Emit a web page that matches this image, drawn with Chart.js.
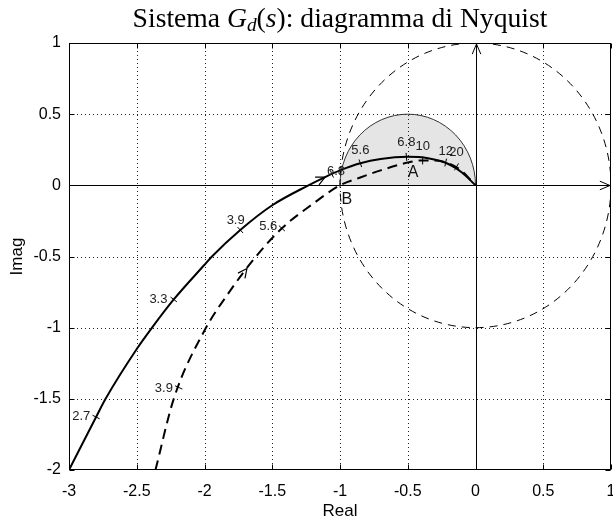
<!DOCTYPE html>
<html>
<head>
<meta charset="utf-8">
<script src="https://cdn.jsdelivr.net/npm/chart.js@4.4.1/dist/chart.umd.min.js"></script>
<style>
  html, body { margin: 0; padding: 0; background: #fff; }
</style>
</head>
<body>
<canvas id="nyq" width="613" height="523"></canvas>
<script>
// curva continua
const solidX = [-3.0, -2.8, -2.73, -2.5, -2.387, -2.227, -2.0, -1.945, -1.736, -1.5, -1.233, -1.11, -1.0, -0.85, -0.7, -0.5, -0.35, -0.2, -0.1, 0];
const solidY = [-2.0, -1.628, -1.5, -1.15, -1.0, -0.802, -0.558, -0.5, -0.314, -0.14, 0.0, 0.058, 0.105, 0.155, 0.185, 0.2, 0.19, 0.15, 0.09, 0];

// curva tratteggiata
const dashX = [-2.362, -2.227, -2.0, -1.81, -1.62, -1.429, -1.2, -1.0, -0.85, -0.7, -0.5, -0.4, -0.3, -0.2, -0.1, 0];
const dashY = [-2.0, -1.5, -1.02, -0.74, -0.5, -0.302, -0.13, 0.0, 0.055, 0.105, 0.16, 0.175, 0.175, 0.155, 0.1, 0];

const xTicks = [-3, -2.5, -2, -1.5, -1, -0.5, 0, 0.5, 1];
const yTicks = [-2, -1.5, -1, -0.5, 0, 0.5, 1];

// tacche di frequenza: x, y tacca, x, y testo, etichetta
const solidMarks = [
  [-2.80, -1.628, -2.91, -1.625, '2.7'],
  [-2.227, -0.802, -2.34, -0.80, '3.3'],
  [-1.736, -0.314, -1.77, -0.25, '3.9'],
  [-1.06, 0.08, -1.03, 0.10, '6.8'],
  [-0.85, 0.155, -0.85, 0.245, '5.6'],
  [-0.51, 0.2, -0.51, 0.30, '6.8']
];
const dashMarks = [
  [-2.19, -1.42, -2.30, -1.43, '3.9'],
  [-1.429, -0.302, -1.53, -0.29, '5.6'],
  [-0.39, 0.175, -0.39, 0.27, '10'],
  [-0.22, 0.16, -0.22, 0.24, '12'],
  [-0.14, 0.13, -0.14, 0.23, '20']
];
const solidArrowAt = -1.11;
const dashArrowAt = -1.687;

const unitCircle = [0, 0, 1];     // centro x, centro y, raggio
const mCircle = [-0.5, 0, 0.5];
const namedPts = [['A', -0.46, 0.09], ['B', -0.95, -0.1]];

function px(c, v) { return c.scales.x.getPixelForValue(v); }
function py(c, v) { return c.scales.y.getPixelForValue(v); }

// direzione (in pixel) del tratto di curva che contiene x
function dirAt(c, xs, ys, x) {
  let i = 0;
  while (i < xs.length - 2 && xs[i + 1] < x) i++;
  const dx = px(c, xs[i + 1]) - px(c, xs[i]);
  const dy = py(c, ys[i + 1]) - py(c, ys[i]);
  const l = Math.hypot(dx, dy);
  return [dx / l, dy / l];
}

function interp(xs, ys, x) {
  let i = 0;
  while (i < xs.length - 2 && xs[i + 1] < x) i++;
  const t = (x - xs[i]) / (xs[i + 1] - xs[i]);
  return ys[i] + t * (ys[i + 1] - ys[i]);
}

function arrowHead(ctx, x, y, ux, uy, len, half) {
  const a = Math.atan2(uy, ux);
  ctx.beginPath();
  ctx.moveTo(x - len * Math.cos(a - half), y - len * Math.sin(a - half));
  ctx.lineTo(x, y);
  ctx.lineTo(x - len * Math.cos(a + half), y - len * Math.sin(a + half));
  ctx.stroke();
}

function ellipseOf(c, circ) {
  const cx = px(c, circ[0]), cy = py(c, circ[1]);
  return [cx, cy, px(c, circ[0] + circ[2]) - cx, cy - py(c, circ[1] + circ[2])];
}

const decor = {
  id: 'decor',
  beforeDatasetsDraw(chart) {
    const ctx = chart.ctx, a = chart.chartArea;
    ctx.save();
    ctx.beginPath();
    ctx.rect(a.left, a.top, a.right - a.left, a.bottom - a.top);
    ctx.clip();

    // semicerchio grigio
    let e = ellipseOf(chart, mCircle);
    ctx.beginPath();
    ctx.ellipse(e[0], e[1], e[2], e[3], 0, Math.PI, 2 * Math.PI);
    ctx.closePath();
    ctx.fillStyle = '#e5e5e5';
    ctx.fill();
    ctx.beginPath();
    ctx.ellipse(e[0], e[1], e[2], e[3], 0, Math.PI, 2 * Math.PI);
    ctx.strokeStyle = '#333';
    ctx.lineWidth = 1;
    ctx.stroke();

    // griglia
    ctx.setLineDash([1, 3]);
    ctx.strokeStyle = '#222';
    xTicks.forEach(v => {
      const x = Math.round(px(chart, v)) + 0.5;
      ctx.beginPath(); ctx.moveTo(x, a.top); ctx.lineTo(x, a.bottom); ctx.stroke();
    });
    yTicks.forEach(v => {
      const y = Math.round(py(chart, v)) + 0.5;
      ctx.beginPath(); ctx.moveTo(a.left, y); ctx.lineTo(a.right, y); ctx.stroke();
    });

    // cerchio unitario tratteggiato
    e = ellipseOf(chart, unitCircle);
    ctx.setLineDash([8, 6]);
    ctx.strokeStyle = '#000';
    ctx.beginPath();
    ctx.ellipse(e[0], e[1], e[2], e[3], 0, 0, 2 * Math.PI);
    ctx.stroke();

    // assi con frecce
    ctx.setLineDash([]);
    const x0 = Math.round(px(chart, 0)) + 0.5, y0 = Math.round(py(chart, 0)) + 0.5;
    ctx.beginPath();
    ctx.moveTo(a.left, y0); ctx.lineTo(a.right - 1, y0);
    ctx.moveTo(x0, a.bottom); ctx.lineTo(x0, a.top + 1);
    ctx.stroke();
    arrowHead(ctx, a.right - 1, y0, 1, 0, 11, 0.4);
    arrowHead(ctx, x0, a.top + 1, 0, -1, 11, 0.4);
    ctx.restore();
  },
  afterDatasetsDraw(chart) {
    const ctx = chart.ctx, a = chart.chartArea;
    ctx.save();
    ctx.strokeStyle = '#000';
    ctx.fillStyle = '#222';
    ctx.lineWidth = 1;
    ctx.font = '13px "Liberation Sans", Arial, sans-serif';
    ctx.textAlign = 'center';
    ctx.textBaseline = 'middle';

    const drawMarks = (marks, xs, ys) => {
      marks.forEach(m => {
        const d = dirAt(chart, xs, ys, m[0]);
        const x = px(chart, m[0]), y = py(chart, m[1]);
        ctx.beginPath();
        ctx.moveTo(x - d[1] * 4, y + d[0] * 4);
        ctx.lineTo(x + d[1] * 4, y - d[0] * 4);
        ctx.stroke();
        ctx.fillText(m[4], px(chart, m[2]), py(chart, m[3]));
      });
    };
    drawMarks(solidMarks, solidX, solidY);
    drawMarks(dashMarks, dashX, dashY);

    // frecce sulle curve
    ctx.lineWidth = 1.2;
    let d = dirAt(chart, solidX, solidY, solidArrowAt);
    arrowHead(ctx, px(chart, solidArrowAt), py(chart, interp(solidX, solidY, solidArrowAt)), d[0], d[1], 10, 0.45);
    d = dirAt(chart, dashX, dashY, dashArrowAt);
    arrowHead(ctx, px(chart, dashArrowAt), py(chart, interp(dashX, dashY, dashArrowAt)), d[0], d[1], 10, 0.45);

    // punti A e B
    ctx.font = '16px "Liberation Sans", Arial, sans-serif';
    ctx.fillStyle = '#111';
    namedPts.forEach(p => ctx.fillText(p[0], px(chart, p[1]), py(chart, p[2])));

    // cornice e tacche
    ctx.lineWidth = 1;
    ctx.strokeStyle = '#000';
    const L = a.left + 0.5, R = a.right - 0.5, T = a.top + 0.5, B = a.bottom - 0.5;
    ctx.strokeRect(L, T, R - L, B - T);
    ctx.beginPath();
    xTicks.forEach(v => {
      const x = Math.round(px(chart, v)) + 0.5;
      ctx.moveTo(x, B); ctx.lineTo(x, B - 5);
      ctx.moveTo(x, T); ctx.lineTo(x, T + 5);
    });
    yTicks.forEach(v => {
      const y = Math.round(py(chart, v)) + 0.5;
      ctx.moveTo(L, y); ctx.lineTo(L + 5, y);
      ctx.moveTo(R, y); ctx.lineTo(R - 5, y);
    });
    ctx.stroke();

    // etichette assi
    ctx.fillStyle = '#000';
    ctx.font = '17px "Liberation Sans", Arial, sans-serif';
    ctx.fillText('Real', (a.left + a.right) / 2, 511);
    ctx.save();
    ctx.translate(17, (a.top + a.bottom) / 2);
    ctx.rotate(-Math.PI / 2);
    ctx.fillText('Imag', 0, 0);
    ctx.restore();

    // titolo con pedice
    const parts = [
      ['Sistema ', '', 0], ['G', 'italic ', 0], ['d', 'italic ', 1], ['(', '', 0],
      ['s', 'italic ', 0], [')', '', 0], [': diagramma di Nyquist', '', 0]
    ];
    let f = 20;
    const fam = '"Liberation Serif", "DejaVu Serif", serif';
    const widthAt = s => parts.reduce((w, p) => {
      ctx.font = p[1] + (p[2] ? s * 0.7 : s) + 'px ' + fam;
      return w + ctx.measureText(p[0]).width;
    }, 0);
    f = f * 415 / widthAt(f);
    let x = 340 - widthAt(f) / 2;
    ctx.textAlign = 'left';
    ctx.textBaseline = 'alphabetic';
    parts.forEach(p => {
      ctx.font = p[1] + (p[2] ? f * 0.7 : f) + 'px ' + fam;
      ctx.fillText(p[0], x, p[2] ? 31 : 27);
      x += ctx.measureText(p[0]).width;
    });
    ctx.restore();
  }
};

const ctx = document.getElementById('nyq');

new Chart(ctx, {
  type: 'scatter',
  data: {
    datasets: [
      {
        label: 'Gd',
        data: solidX.map((x, i) => ({ x: x, y: solidY[i] })),
        showLine: true,
        borderColor: '#000',
        borderWidth: 2,
        pointRadius: 0,
        cubicInterpolationMode: 'monotone'
      },
      {
        label: 'G',
        data: dashX.map((x, i) => ({ x: x, y: dashY[i] })),
        showLine: true,
        borderColor: '#000',
        borderWidth: 2,
        borderDash: [10, 6],
        pointRadius: 0,
        cubicInterpolationMode: 'monotone'
      }
    ]
  },
  options: {
    responsive: false,
    animation: false,
    layout: { padding: { top: 43, right: 2, left: 0, bottom: 0 } },
    plugins: { legend: { display: false }, tooltip: { enabled: false }, title: { display: false } },
    scales: {
      x: {
        type: 'linear', min: -3, max: 1,
        afterBuildTicks: s => { s.ticks = xTicks.map(v => ({ value: v })); },
        afterFit: s => { s.height = 53; s.paddingLeft = 0; s.paddingRight = 0; },
        grid: { display: false, drawTicks: false },
        border: { display: false },
        ticks: {
          color: '#000', padding: 12,
          font: { family: '"Liberation Sans", Arial, sans-serif', size: 16 },
          callback: v => String(v)
        }
      },
      y: {
        type: 'linear', min: -2, max: 1,
        afterBuildTicks: s => { s.ticks = yTicks.map(v => ({ value: v })); },
        afterFit: s => { s.width = 69; s.paddingTop = 0; s.paddingBottom = 0; },
        grid: { display: false, drawTicks: false },
        border: { display: false },
        ticks: {
          color: '#000', padding: 8,
          font: { family: '"Liberation Sans", Arial, sans-serif', size: 16 },
          callback: v => String(v)
        }
      }
    }
  },
  plugins: [decor]
});
</script>
</body>
</html>
